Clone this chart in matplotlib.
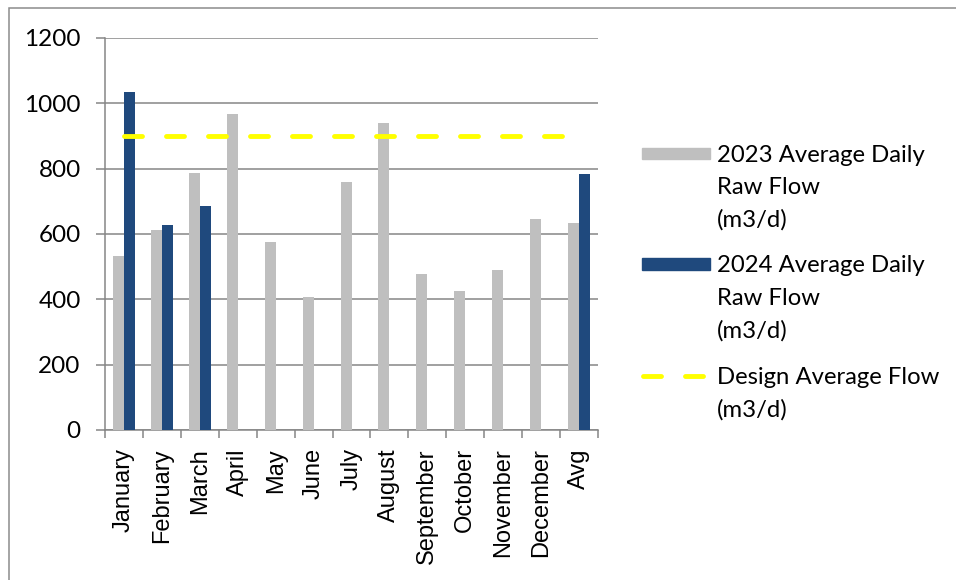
import matplotlib.pyplot as plt
from matplotlib.patches import Rectangle
from matplotlib.lines import Line2D
import numpy as np

months = ["January", "February", "March", "April", "May", "June", "July",
          "August", "September", "October", "November", "December", "Avg"]
flow_2023 = [532, 612, 786, 967, 574, 407, 758, 941, 477, 425, 489, 645, 635]
flow_2024 = [1034, 629, 685, None, None, None, None, None, None, None, None, None, 785]
design_flow = 900

legend_2023 = ["2023 Average Daily", "Raw Flow", "(m3/d)"]
legend_2024 = ["2024 Average Daily", "Raw Flow", "(m3/d)"]
legend_design = ["Design Average Flow", "(m3/d)"]

GREY = "#BFBFBF"
BLUE = "#1F497D"
YELLOW = "#FFFF00"
AXIS = "#868686"
W, H = 956, 580

fig = plt.figure(figsize=(W / 100, H / 100), dpi=100)
ax = fig.add_axes([105 / W, 1 - 430 / H, (598 - 105) / W, (430 - 38) / H])

x = np.arange(len(months)) + 0.5
bw = 0.29
ax.bar(x - bw / 2, flow_2023, width=bw, color=GREY, zorder=3)
x24 = [xi for xi, v in zip(x, flow_2024) if v is not None]
v24 = [v for v in flow_2024 if v is not None]
ax.bar(np.array(x24) + bw / 2, v24, width=bw, color=BLUE, zorder=3)

dash = (0, (3.7, 4.94))
ax.plot(x, [design_flow] * len(x), color=YELLOW, lw=3.5, ls=dash,
        dash_capstyle="round", zorder=4)

ax.set_xlim(0, len(months))
ax.set_ylim(0, 1200)
ax.set_yticks(range(0, 1201, 200))
ax.grid(axis="y", color=AXIS, lw=1.1, zorder=0)
ax.set_axisbelow(True)

ax.set_xticks(np.arange(len(months) + 1))
ax.set_xticklabels([])
ax.set_xticks(x, minor=True)
ax.set_xticklabels(months, minor=True, rotation=90, fontsize=17,
                   family="Liberation Sans", va="top", ha="center")
ax.tick_params(axis="x", which="major", length=5.8, width=1.1, color=AXIS, direction="out")
ax.tick_params(axis="x", which="minor", length=0, pad=13)
ax.tick_params(axis="y", length=6.5, width=1.1, color=AXIS, direction="out", pad=11)
for lab in ax.get_yticklabels():
    lab.set_fontfamily("Lato")
    lab.set_fontsize(17.5)

for s in ["top", "right"]:
    ax.spines[s].set_visible(False)
for s in ["left", "bottom"]:
    ax.spines[s].set_color(AXIS)
    ax.spines[s].set_linewidth(1.1)

# chart border (cut off right and bottom)
fig.add_artist(Rectangle((9 / W, -0.1), 1.2, 1 - 8 / H + 0.1,
                         transform=fig.transFigure, fill=False,
                         edgecolor="#8C8C8C", lw=1.1))

# legend drawn by hand
def fx(px):
    return px / W

def fy(py):
    return 1 - py / H

line_gap = 32.5
fig.add_artist(Rectangle((fx(642), fy(159)), fx(710) - fx(642), 11 / H,
                         transform=fig.transFigure, color=GREY))
fig.add_artist(Rectangle((fx(642), fy(270)), fx(710) - fx(642), 12 / H,
                         transform=fig.transFigure, color=BLUE))
fig.add_artist(Line2D([fx(642.5), fx(702.5)], [fy(376), fy(376)],
                      transform=fig.transFigure, color=YELLOW, lw=3.5,
                      ls=dash, dash_capstyle="round"))

for lines, base in [(legend_2023, 161.5), (legend_2024, 272.5), (legend_design, 384)]:
    for i, t in enumerate(lines):
        fig.text(fx(717), fy(base + i * line_gap), t, fontsize=17.2,
                 family="Lato", va="baseline", ha="left")

fig.savefig("out.png", dpi=100)
